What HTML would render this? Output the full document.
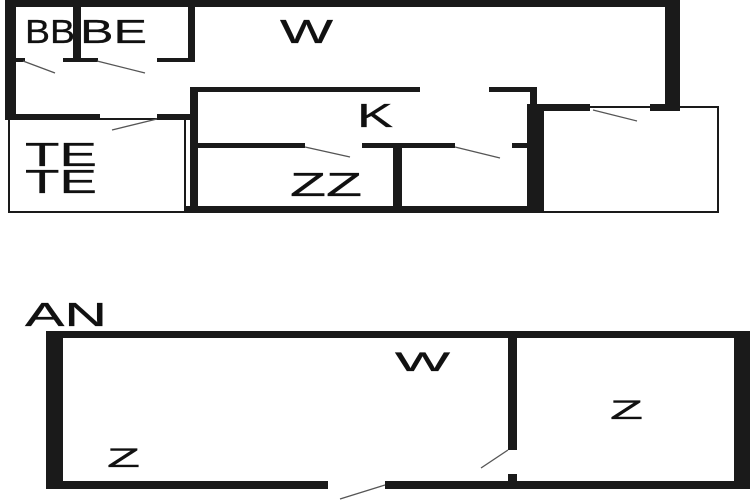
<!DOCTYPE html>
<html><head><meta charset="utf-8"><style>
html,body{margin:0;padding:0;background:#fff;width:750px;height:500px;overflow:hidden}
svg{display:block}
text{font-family:"Liberation Sans",sans-serif;fill:#111;stroke:#111;stroke-width:0.3}
</style></head><body>
<svg width="750" height="500" viewBox="0 0 750 500">
<g fill="#1a1a1a">
<rect x="5" y="0" width="675" height="7"/>
<rect x="5" y="0" width="11" height="119"/>
<rect x="665" y="0" width="15" height="110"/>
<rect x="73" y="7" width="8" height="55"/>
<rect x="188" y="7" width="7" height="55"/>
<rect x="16" y="58" width="9" height="4"/>
<rect x="63" y="58" width="35" height="4"/>
<rect x="157" y="58" width="38" height="4"/>
<rect x="5" y="114" width="95" height="6"/>
<rect x="157" y="114" width="36" height="6"/>
<rect x="190" y="87" width="230" height="5"/>
<rect x="489" y="87" width="48" height="5"/>
<rect x="190" y="87" width="8" height="126"/>
<rect x="530" y="87" width="7" height="20"/>
<rect x="527" y="105" width="16" height="108"/>
<rect x="198" y="143" width="107" height="5"/>
<rect x="362" y="143" width="93" height="5"/>
<rect x="512" y="143" width="18" height="5"/>
<rect x="393" y="146" width="9" height="64"/>
<rect x="185" y="206" width="358" height="7"/>
<rect x="527" y="104" width="63" height="7"/>
<rect x="650" y="104" width="30" height="7"/>
<rect x="46" y="331" width="704" height="7"/>
<rect x="46" y="331" width="17" height="158"/>
<rect x="46" y="481" width="282" height="8"/>
<rect x="385" y="481" width="365" height="8"/>
<rect x="734" y="331" width="16" height="158"/>
<rect x="508" y="331" width="9" height="119"/>
<rect x="508" y="474" width="9" height="10"/>
</g>
<g fill="none" stroke="#1a1a1a">
<rect x="9" y="119" width="176" height="93" stroke-width="2"/>
<rect x="543" y="107" width="175" height="105" stroke-width="2"/>
</g>
<g stroke="#555" stroke-width="1.3" fill="none">
<line x1="23" y1="61" x2="55" y2="73"/>
<line x1="97" y1="61" x2="145" y2="73"/>
<line x1="112" y1="130" x2="157" y2="119"/>
<line x1="305" y1="147" x2="350" y2="157"/>
<line x1="455" y1="147" x2="500" y2="158"/>
<line x1="593" y1="110" x2="637" y2="121"/>
<line x1="481" y1="468" x2="508" y2="450"/>
<line x1="340" y1="499" x2="385" y2="485"/>
</g>
<g font-size="33">
<text x="25" y="43" textLength="50" lengthAdjust="spacingAndGlyphs">BB</text>
<text x="80" y="43" textLength="67" lengthAdjust="spacingAndGlyphs">BE</text>
<text x="280" y="43" textLength="53" lengthAdjust="spacingAndGlyphs">W</text>
<text x="357" y="127" textLength="36" lengthAdjust="spacingAndGlyphs">K</text>
<text x="25" y="166" textLength="72" lengthAdjust="spacingAndGlyphs">TE</text>
<text x="25" y="193" textLength="72" lengthAdjust="spacingAndGlyphs">TE</text>
<text x="290" y="196" textLength="72" lengthAdjust="spacingAndGlyphs">ZZ</text>
<text x="25" y="326" textLength="82" lengthAdjust="spacingAndGlyphs">AN</text>
</g>
<g font-size="27">
<text x="395" y="371" textLength="55" lengthAdjust="spacingAndGlyphs">W</text>
<text x="610" y="419" textLength="33" lengthAdjust="spacingAndGlyphs">Z</text>
<text x="107" y="467" textLength="33" lengthAdjust="spacingAndGlyphs">Z</text>
</g>
</svg>
</body></html>
